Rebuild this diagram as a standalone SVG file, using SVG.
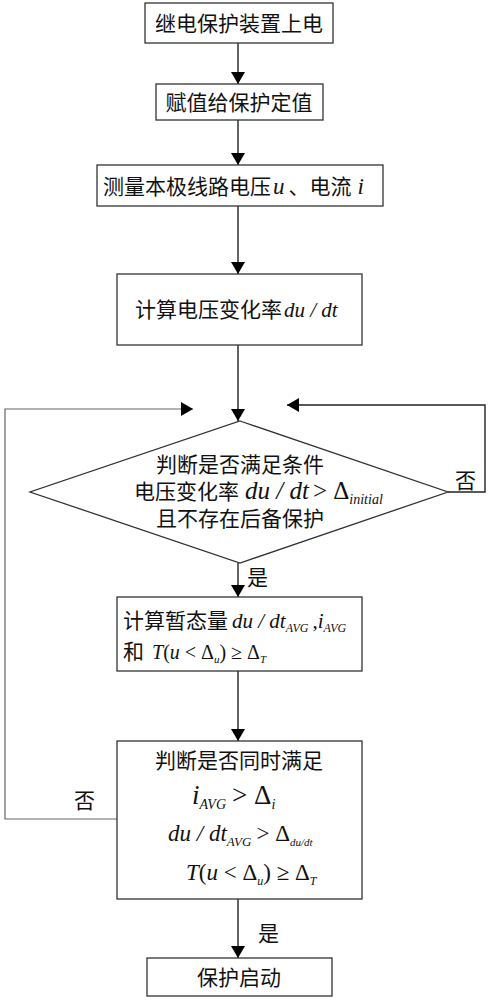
<svg xmlns="http://www.w3.org/2000/svg" width="492" height="1000" viewBox="0 0 492 1000">
<defs>
<marker id="ah" markerWidth="12" markerHeight="14" refX="12" refY="7" orient="auto" markerUnits="userSpaceOnUse">
<path d="M0,0 L12,7 L0,14 Z" fill="#000"/>
</marker>
<style>
.box{fill:#fff;stroke:#333;stroke-width:1.3}
.ln{fill:none;stroke:#222;stroke-width:1.4}
.lp{fill:none;stroke:#666;stroke-width:1.2}
.cn{font-family:"Noto Sans CJK SC","Liberation Serif",serif;font-size:21px;fill:#111}
.m{font-family:"Liberation Serif",serif;font-style:italic;fill:#111}
.r{font-family:"Liberation Serif",serif;fill:#111}
</style>
</defs>
<g id="connectors">
<line class="ln" x1="238" y1="43" x2="238" y2="84" marker-end="url(#ah)"/>
<line class="ln" x1="238" y1="120" x2="238" y2="165" marker-end="url(#ah)"/>
<line class="ln" x1="238" y1="206" x2="238" y2="274" marker-end="url(#ah)"/>
<line class="ln" x1="238" y1="345" x2="238" y2="421" marker-end="url(#ah)"/>
<line class="ln" x1="238" y1="563" x2="238" y2="597" marker-end="url(#ah)"/>
<line class="ln" x1="238" y1="671" x2="238" y2="741" marker-end="url(#ah)"/>
<line class="ln" x1="238" y1="899" x2="238" y2="958" marker-end="url(#ah)"/>
<polyline class="lp" points="117,819 5,819 5,409 193,409" marker-end="url(#ah)"/>
<polyline class="ln" points="448,492 485,492 485,405 287,405" marker-end="url(#ah)"/>
<text class="cn" x="247" y="585">是</text>
<text class="cn" x="455" y="488">否</text>
<text class="cn" x="74" y="808">否</text>
<text class="cn" x="258" y="941">是</text>
</g>
<g id="n1">
<rect class="box" x="145" y="3" width="188" height="40"/>
<text class="cn" x="239" y="31" text-anchor="middle">继电保护装置上电</text>
</g>
<g id="n2">
<rect class="box" x="156" y="84" width="167" height="36"/>
<text class="cn" x="239" y="110" text-anchor="middle">赋值给保护定值</text>
</g>
<g id="n3">
<rect class="box" x="97" y="165" width="286" height="41"/>
<text x="103" y="194"><tspan class="cn">测量本极线路电压</tspan><tspan class="m" font-size="23" dx="2">u</tspan><tspan class="cn" dx="4">、电流</tspan><tspan class="m" font-size="23" dx="6">i</tspan></text>
</g>
<g id="n4">
<rect class="box" x="117" y="274" width="245" height="71"/>
<text x="135" y="317"><tspan class="cn">计算电压变化率</tspan><tspan class="m" font-size="21" dx="2">du / dt</tspan></text>
</g>
<g id="n5">
<polygon class="box" points="240,421 448,492 240,563 30,492"/>
<text class="cn" x="240" y="472" text-anchor="middle">判断是否满足条件</text>
<text x="134" y="499"><tspan class="cn">电压变化率</tspan><tspan class="m" font-size="25" dx="6">du / dt</tspan><tspan class="r" font-size="25" dx="4">&gt; Δ</tspan><tspan class="m" font-size="14" dy="5">initial</tspan></text>
<text class="cn" x="240" y="526" text-anchor="middle">且不存在后备保护</text>
</g>
<g id="n6">
<rect class="box" x="117" y="597" width="245" height="74"/>
<text x="123" y="628"><tspan class="cn" font-size="20">计算暂态量</tspan><tspan class="m" font-size="21" dx="4">du / dt</tspan><tspan class="m" font-size="12" dy="4">AVG</tspan><tspan class="r" font-size="21" dy="-4" dx="4">,</tspan><tspan class="m" font-size="21">i</tspan><tspan class="m" font-size="12" dy="4">AVG</tspan></text>
<text x="123" y="659"><tspan class="cn" font-size="20">和</tspan><tspan class="m" font-size="20" dx="8">T</tspan><tspan class="r" font-size="20">(</tspan><tspan class="m" font-size="20">u</tspan><tspan class="r" font-size="20"> &lt; Δ</tspan><tspan class="m" font-size="11" dy="4">u</tspan><tspan class="r" font-size="20" dy="-4">) ≥ Δ</tspan><tspan class="m" font-size="11" dy="4">T</tspan></text>
</g>
<g id="n7">
<rect class="box" x="117" y="741" width="245" height="158"/>
<text class="cn" x="239" y="768" text-anchor="middle">判断是否同时满足</text>
<text x="192" y="804"><tspan class="m" font-size="27">i</tspan><tspan class="m" font-size="14" dy="5">AVG</tspan><tspan class="r" font-size="27" dy="-5" dx="6">&gt; Δ</tspan><tspan class="m" font-size="14" dy="5">i</tspan></text>
<text x="168" y="841"><tspan class="m" font-size="23">du / dt</tspan><tspan class="m" font-size="13" dy="5">AVG</tspan><tspan class="r" font-size="23" dy="-5" dx="5">&gt; Δ</tspan><tspan class="m" font-size="11" dy="5">du/dt</tspan></text>
<text x="186" y="880"><tspan class="m" font-size="23">T</tspan><tspan class="r" font-size="23">(</tspan><tspan class="m" font-size="23">u</tspan><tspan class="r" font-size="23"> &lt; Δ</tspan><tspan class="m" font-size="12" dy="5">u</tspan><tspan class="r" font-size="23" dy="-5">) ≥ Δ</tspan><tspan class="m" font-size="12" dy="5">T</tspan></text>
</g>
<g id="n8">
<rect class="box" x="147" y="958" width="185" height="38"/>
<text class="cn" x="239" y="985" text-anchor="middle">保护启动</text>
</g>
</svg>
